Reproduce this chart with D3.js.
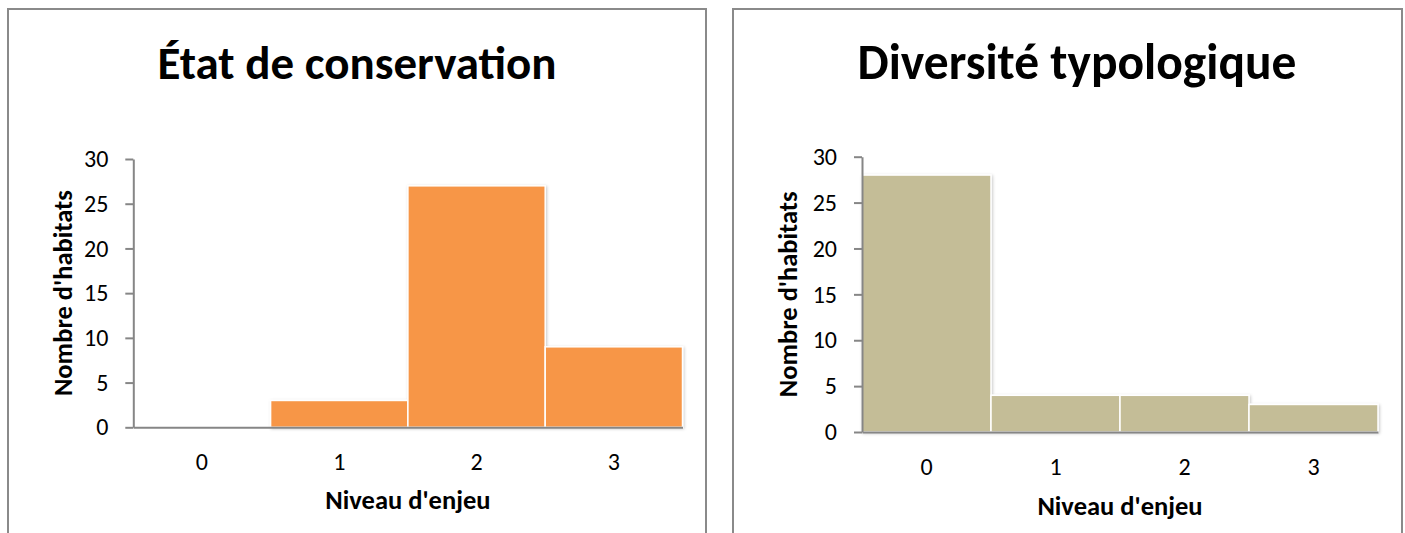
<!DOCTYPE html>
<html lang="fr">
<head>
<meta charset="utf-8">
<title>Niveaux d'enjeu des habitats</title>
<script src="https://cdn.jsdelivr.net/npm/d3@7"></script>
<style>
  html, body { margin: 0; padding: 0; background: #fff; }
  svg { display: block; font-family: Carlito, Calibri, Lato, "Open Sans", sans-serif; }
</style>
</head>
<body>
<svg id="chart" width="1405" height="533"></svg>
<script>
// Niveaux d'enjeu (catégories communes aux deux histogrammes)
const levels = ["0", "1", "2", "3"];
// Nombre d'habitats par niveau d'enjeu
const conservationCounts = [0, 3, 27, 9];
const diversityCounts = [28, 4, 4, 3];
// Graduations de l'axe vertical
const yTicks = [0, 5, 10, 15, 20, 25, 30];

const titles = ["État de conservation", "Diversité typologique"];
const xTitle = "Niveau d'enjeu";
const yTitle = "Nombre d'habitats";

const AXIS_TITLE_SIZE = 26.5;
const TICK_SIZE = 24;

const svg = d3.select("#chart");

// Ombre portée douce des barres
const defs = svg.append("defs");
defs.append("filter")
    .attr("id", "barShadow")
    .attr("x", "-10%").attr("y", "-10%")
    .attr("width", "120%").attr("height", "120%")
  .append("feDropShadow")
    .attr("dx", 1).attr("dy", 1)
    .attr("stdDeviation", 1.5)
    .attr("flood-color", "#000")
    .attr("flood-opacity", 0.22);

const panels = [
  {
    title: titles[0], counts: conservationCounts, color: "#F79646",
    frame: { x: 8, y: 9, w: 698 },
    plot: { left: 133.3, right: 682.5, top: 159, bottom: 427.3 },
    titleX: 357, titleY: 79.3, titleSize: 47,
    yTitleX: 72, xTitleY: 509
  },
  {
    title: titles[1], counts: diversityCounts, color: "#C4BD97",
    frame: { x: 733, y: 9, w: 669 },
    plot: { left: 862, right: 1378, top: 156.7, bottom: 432 },
    titleX: 1077, titleY: 79, titleSize: 49.5,
    yTitleX: 797, xTitleY: 515
  }
];

panels.forEach(p => {
  const g = svg.append("g");

  // Cadre du graphique
  g.append("rect")
    .attr("x", p.frame.x).attr("y", p.frame.y)
    .attr("width", p.frame.w).attr("height", 600)
    .attr("fill", "#fff")
    .attr("stroke", "#8a8a8a")
    .attr("stroke-width", 2);

  // Titre
  g.append("text")
    .attr("x", p.titleX).attr("y", p.titleY)
    .attr("text-anchor", "middle")
    .attr("font-size", p.titleSize)
    .attr("font-weight", "bold")
    .attr("fill", "#000")
    .text(p.title);

  const x = d3.scaleBand()
    .domain(levels)
    .range([p.plot.left, p.plot.right])
    .padding(0);

  const y = d3.scaleLinear()
    .domain([0, 30])
    .range([p.plot.bottom, p.plot.top]);

  const data = levels.map((lv, i) => ({ level: lv, value: p.counts[i] }));

  // Barres de l'histogramme
  g.append("g")
    .attr("filter", "url(#barShadow)")
    .selectAll("rect")
    .data(data.filter(d => d.value > 0))
    .join("rect")
      .attr("x", d => x(d.level))
      .attr("y", d => y(d.value))
      .attr("width", x.bandwidth())
      .attr("height", d => y(0) - y(d.value))
      .attr("fill", p.color)
      .attr("stroke", "#fff")
      .attr("stroke-width", 1.5);

  // Axe vertical
  const yAxis = g.append("g")
    .attr("transform", `translate(${p.plot.left},0)`)
    .call(d3.axisLeft(y).tickValues(yTicks).tickSize(8).tickSizeOuter(0).tickPadding(17));
  yAxis.attr("font-family", null).attr("font-size", null);
  yAxis.select(".domain").attr("stroke", "#868686").attr("stroke-width", 2);
  yAxis.selectAll(".tick line").attr("stroke", "#868686").attr("stroke-width", 2);
  yAxis.selectAll(".tick text")
    .attr("font-size", TICK_SIZE)
    .attr("fill", "#000");

  // Axe horizontal
  const xAxis = g.append("g")
    .attr("transform", `translate(0,${p.plot.bottom})`)
    .call(d3.axisBottom(x).tickSize(0).tickSizeOuter(0).tickPadding(26));
  xAxis.attr("font-family", null).attr("font-size", null);
  xAxis.select(".domain").attr("stroke", "#868686").attr("stroke-width", 2);
  xAxis.selectAll(".tick text")
    .attr("font-size", TICK_SIZE)
    .attr("fill", "#000");

  // Titres des axes
  g.append("text")
    .attr("x", (p.plot.left + p.plot.right) / 2)
    .attr("y", p.xTitleY)
    .attr("text-anchor", "middle")
    .attr("font-size", AXIS_TITLE_SIZE)
    .attr("font-weight", "bold")
    .attr("fill", "#000")
    .text(xTitle);

  g.append("text")
    .attr("transform", `translate(${p.yTitleX},${(p.plot.top + p.plot.bottom) / 2}) rotate(-90)`)
    .attr("text-anchor", "middle")
    .attr("font-size", AXIS_TITLE_SIZE)
    .attr("font-weight", "bold")
    .attr("fill", "#000")
    .text(yTitle);
});
</script>
</body>
</html>
